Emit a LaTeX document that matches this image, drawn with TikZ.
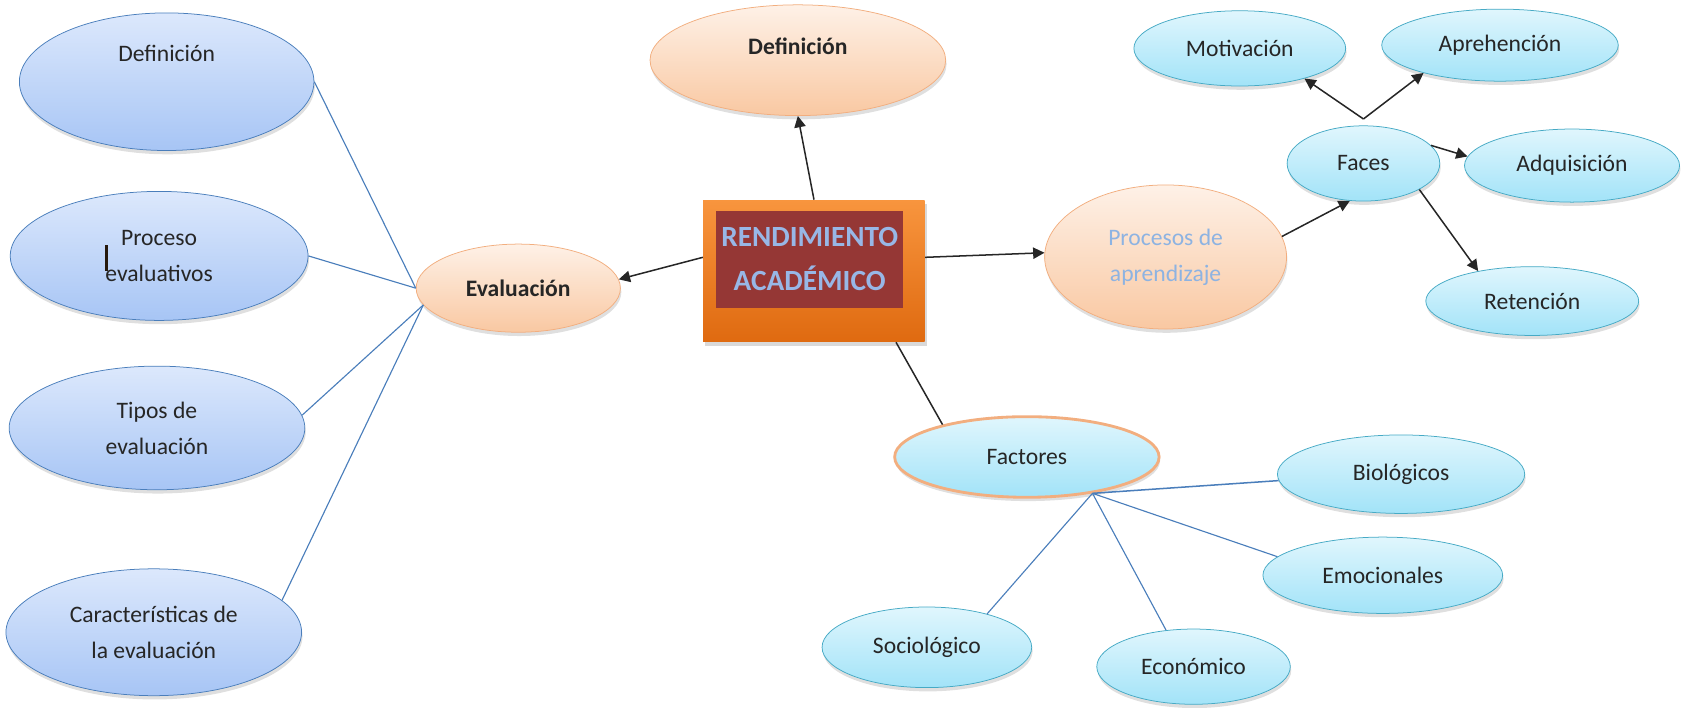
\documentclass[tikz,border=0pt]{standalone}
\usepackage{fontspec}
\setmainfont{Carlito}
\usetikzlibrary{shapes.geometric,shadows,arrows.meta}

\definecolor{blueT}{HTML}{DCE8FC}
\definecolor{blueB}{HTML}{A7C5F5}
\definecolor{lineblue}{HTML}{4A7EBB}
\definecolor{cyanT}{HTML}{E0F6FD}
\definecolor{cyanB}{HTML}{A2E3F8}
\definecolor{cyanD}{HTML}{46AAC5}
\definecolor{peachT}{HTML}{FEF1E7}
\definecolor{peachB}{HTML}{F9C8A2}
\definecolor{peachD}{HTML}{F2AE7F}
\definecolor{orangeT}{HTML}{F8953E}
\definecolor{orangeB}{HTML}{DF6A10}
\definecolor{brick}{HTML}{953735}
\definecolor{titleblue}{HTML}{98B7E6}
\definecolor{procblue}{HTML}{8DB3E2}

\begin{document}
\begin{tikzpicture}[x=0.02cm,y=-0.02cm,
  font=\fontsize{12.5}{19}\selectfont,
  heavy/.style={font=\fontsize{12.5}{19}\selectfont\bfseries},
  bubble/.style={ellipse,inner sep=0pt,align=center,text=black!85,
    drop shadow={opacity=0.25,shadow xshift=0.5pt,shadow yshift=-2pt}},
  blueb/.style={bubble,draw=lineblue,top color=blueT,bottom color=blueB},
  cyanb/.style={bubble,draw=cyanD,top color=cyanT,bottom color=cyanB},
  peachb/.style={bubble,draw=peachD,top color=peachT,bottom color=peachB},
  arr/.style={-{Triangle[length=6pt,width=6pt]},thick,black!85},
  link/.style={lineblue,semithick}]
\useasboundingbox (0,0) rectangle (1568,658);

% evaluacion side
\node[blueb,minimum width=5.48cm,minimum height=2.56cm,
  label={[text=black!85,yshift=0.52cm]center:Definición}] (defl) at (155,76) {};
\node[blueb,minimum width=5.54cm,minimum height=2.4cm] (proc) at (148,238) {Proceso\\evaluativos};
\node[blueb,minimum width=5.5cm,minimum height=2.3cm] (tipos) at (146,398) {Tipos de\\evaluación};
\node[blueb,minimum width=5.5cm,minimum height=2.36cm] (carac) at (143,588) {Características de\\la evaluación};
\node[peachb,heavy,minimum width=3.8cm,minimum height=1.64cm] (eval) at (482,268) {Evaluación};
\draw[line width=1.3pt,black!80!brown] (99,228) -- (99,252);

% centre
\node[peachb,minimum width=5.5cm,minimum height=2.06cm,
  label={[heavy,text=black!85,yshift=0.26cm]center:Definición}] (deft) at (742,56) {};
\node[rectangle,minimum width=4.12cm,minimum height=2.64cm,top color=orangeT,bottom color=orangeB,
  drop shadow={opacity=0.3,shadow xshift=1pt,shadow yshift=-2pt}] (rend) at (757,252) {};
\node[fill=brick,inner sep=0pt,minimum width=3.48cm,minimum height=1.8cm,align=center,
  text=titleblue,font=\fontsize{15.5}{23}\selectfont\bfseries] (title) at (753,241) {RENDIMIENTO\\ACADÉMICO};

% aprendizaje side
\node[peachb,text=procblue,minimum width=4.5cm,minimum height=2.68cm] (procs) at (1084,239) {Procesos de\\aprendizaje};
\node[cyanb,minimum width=2.84cm,minimum height=1.4cm] (faces) at (1268,152) {Faces};
\node[cyanb,minimum width=3.94cm,minimum height=1.4cm] (motiv) at (1153,45) {Motivación};
\node[cyanb,minimum width=4.4cm,minimum height=1.34cm] (aprehen) at (1395,42) {Aprehención};
\node[cyanb,minimum width=4cm,minimum height=1.36cm] (adq) at (1462,154) {Adquisición};
\node[cyanb,minimum width=3.96cm,minimum height=1.28cm] (ret) at (1425,280) {Retención};
\coordinate (fhub) at ([yshift=0.12cm]faces.north);

% factores
\node[cyanb,draw=peachD,line width=1.5pt,minimum width=4.92cm,minimum height=1.5cm] (fact) at (955,425) {Factores};
\node[cyanb,minimum width=4.6cm,minimum height=1.46cm] (bio) at (1303,441) {Biológicos};
\node[cyanb,minimum width=4.46cm,minimum height=1.42cm] (emoc) at (1286,535) {Emocionales};
\node[cyanb,minimum width=3.9cm,minimum height=1.5cm] (socio) at (862,602) {Sociológico};
\node[cyanb,minimum width=3.6cm,minimum height=1.4cm] (econ) at (1110,620) {Económico};

% connectors
\draw[link] (defl.east) -- (eval.180);
\draw[link] (proc.east) -- (eval.180);
\draw[link] (tipos.5) -- (eval.190);
\draw[link] (carac.14) -- (eval.190);
\draw[arr] (rend.173) -- (eval.5);
\draw[arr] (rend.north) -- (deft.south);
\draw[arr] (rend.7) -- (procs.178);
\draw[thick,black!85] (rend.-41) -- (fact.159);
\draw[arr] (procs.10) -- (faces.250);
\draw[arr] (fhub) -- (motiv.-25);
\draw[arr] (fhub) -- (aprehen.200);
\draw[arr] (faces.15) -- (adq.175);
\draw[arr] (faces.-25) -- (ret.151);
\draw[link,thick] (fact.-29) -- (bio.183);
\draw[link] (fact.-29) -- (emoc.170);
\draw[link] (fact.-29) -- (socio.29);
\draw[link] (fact.-29) -- (econ.127);
\end{tikzpicture}
\end{document}
